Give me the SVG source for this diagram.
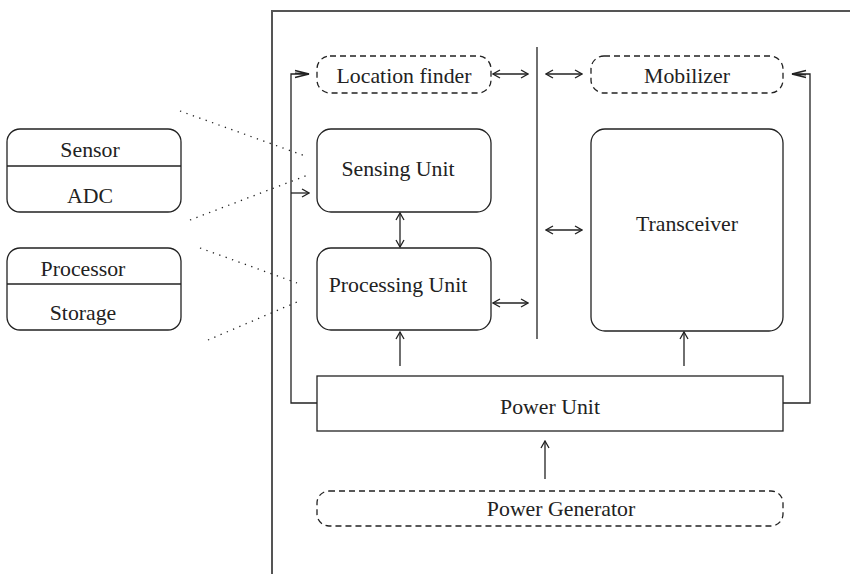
<svg xmlns="http://www.w3.org/2000/svg" width="850" height="574" viewBox="0 0 850 574">
  <defs>
    <style>
      .box { fill: #fff; stroke: #222; stroke-width: 1.3; }
      .dash { fill: #fff; stroke: #222; stroke-width: 1.3; stroke-dasharray: 6 4; }
      .ln { fill: none; stroke: #222; stroke-width: 1.3; }
      .dot { fill: none; stroke: #222; stroke-width: 1.3; stroke-dasharray: 1.3 5.5; }
      .frame { fill: none; stroke: #555; stroke-width: 2; }
      .lbl { font-size: 21.8px; fill: #222; text-anchor: middle; }
    </style>
    <marker id="head" viewBox="0 0 10 10" refX="9" refY="5" markerWidth="10" markerHeight="10" markerUnits="userSpaceOnUse" orient="auto-start-reverse">
      <path d="M2,1 L9,5 L2,9" fill="none" stroke="#222" stroke-width="1.3"/>
    </marker>
    <marker id="narrow" viewBox="0 0 16 10" refX="15" refY="5" markerWidth="16" markerHeight="10" markerUnits="userSpaceOnUse" orient="auto">
      <path d="M1,1.5 L15,5 L1,8.5 M1,4.2 L15,5" fill="none" stroke="#222" stroke-width="1.3"/>
    </marker>
  </defs>

  <!-- node boundary -->
  <path class="frame" d="M850,11 H272 V574"/>

  <!-- connectors -->
  <g id="connectors">
    <!-- dotted zoom lines from component boxes -->
    <line class="dot" x1="180" y1="111" x2="308" y2="157"/>
    <line class="dot" x1="190" y1="220" x2="308" y2="175"/>
    <line class="dot" x1="200" y1="248" x2="297" y2="283"/>
    <line class="dot" x1="208" y1="340" x2="297" y2="302"/>

    <!-- internal bus -->
    <line class="ln" x1="537" y1="47" x2="537" y2="339"/>

    <!-- bus links -->
    <line class="ln" x1="493" y1="74" x2="528" y2="74" marker-start="url(#head)" marker-end="url(#head)"/>
    <line class="ln" x1="546" y1="74" x2="582" y2="74" marker-start="url(#head)" marker-end="url(#head)"/>
    <line class="ln" x1="546" y1="230" x2="582" y2="230" marker-start="url(#head)" marker-end="url(#head)"/>
    <line class="ln" x1="493" y1="303" x2="528" y2="303" marker-start="url(#head)" marker-end="url(#head)"/>
    <line class="ln" x1="400" y1="213" x2="400" y2="247" marker-start="url(#head)" marker-end="url(#head)"/>

    <!-- power feeds -->
    <line class="ln" x1="400" y1="366" x2="400" y2="332" marker-end="url(#head)"/>
    <line class="ln" x1="684" y1="366" x2="684" y2="332" marker-end="url(#head)"/>
    <line class="ln" x1="545" y1="479" x2="545" y2="441" marker-end="url(#head)"/>

    <!-- left power loop -->
    <path class="ln" d="M317,403 H291 V74 H309" marker-end="url(#narrow)"/>
    <line class="ln" x1="291" y1="193" x2="309" y2="193" marker-end="url(#head)"/>

    <!-- right power loop -->
    <path class="ln" d="M783,403 H810 V74 H792" marker-end="url(#narrow)"/>
  </g>

  <g font-family="Liberation Serif, Times New Roman, serif">
    <!-- component detail boxes -->
    <g id="sensor-adc">
      <rect class="box" x="7" y="129" width="174" height="83" rx="13"/>
      <line class="ln" x1="7" y1="166" x2="181" y2="166"/>
      <text class="lbl" x="90" y="157">Sensor</text>
      <text class="lbl" x="90" y="203">ADC</text>
    </g>
    <g id="processor-storage">
      <rect class="box" x="7" y="248" width="174" height="82" rx="13"/>
      <line class="ln" x1="7" y1="284" x2="181" y2="284"/>
      <text class="lbl" x="83" y="276">Processor</text>
      <text class="lbl" x="83" y="320">Storage</text>
    </g>

    <!-- units -->
    <g id="location-finder">
      <rect class="dash" x="317" y="56" width="174" height="37" rx="13"/>
      <text class="lbl" x="404" y="83">Location finder</text>
    </g>
    <g id="mobilizer">
      <rect class="dash" x="591" y="56" width="192" height="37" rx="13"/>
      <text class="lbl" x="687" y="83">Mobilizer</text>
    </g>
    <g id="sensing-unit">
      <rect class="box" x="317" y="129" width="174" height="83" rx="14"/>
      <text class="lbl" x="398" y="176">Sensing Unit</text>
    </g>
    <g id="processing-unit">
      <rect class="box" x="317" y="248" width="174" height="82" rx="14"/>
      <text class="lbl" x="398" y="292">Processing Unit</text>
    </g>
    <g id="transceiver">
      <rect class="box" x="591" y="129" width="192" height="202" rx="14"/>
      <text class="lbl" x="687" y="231">Transceiver</text>
    </g>
    <g id="power-unit">
      <rect class="box" x="317" y="376" width="466" height="55"/>
      <text class="lbl" x="550" y="414">Power Unit</text>
    </g>
    <g id="power-generator">
      <rect class="dash" x="317" y="491" width="466" height="35" rx="12"/>
      <text class="lbl" x="561" y="516">Power Generator</text>
    </g>
  </g>
</svg>
